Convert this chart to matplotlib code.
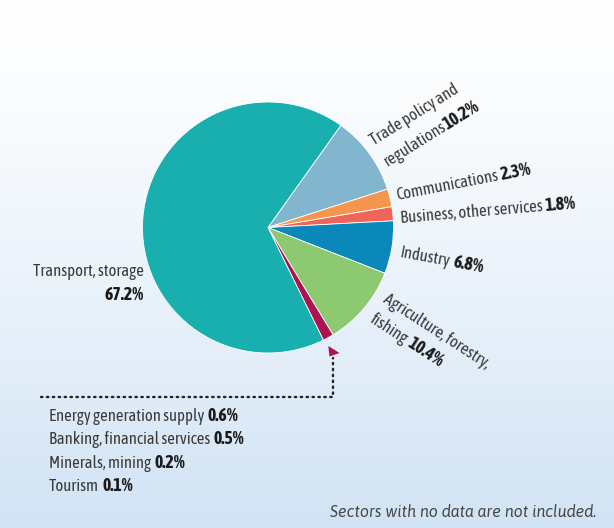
import numpy as np
import matplotlib
matplotlib.use("Agg")
import matplotlib.pyplot as plt
from matplotlib.patches import Polygon

# ---------------- data ----------------
sectors = ["Trade policy and regulations", "Communications", "Business, other services",
           "Industry", "Agriculture, forestry, fishing", "Other (small sectors)", "Transport, storage"]
small_sectors = ["Energy generation supply", "Banking, financial services", "Minerals, mining", "Tourism"]
small_shares = [0.6, 0.5, 0.2, 0.1]
main_shares = [10.2, 2.3, 1.8, 6.8, 10.4, 67.2]
shares = main_shares[:5] + [round(sum(small_shares), 1)] + main_shares[5:]
colors = ["#82B6CE", "#F5964F", "#F0655A", "#0B88BA", "#8CC970", "#AA1450", "#1AAFAF"]
footnote = "Sectors with no data are not included."

# ---------------- figure ----------------
W, H = 614, 528
fig = plt.figure(figsize=(W / 100, H / 100), dpi=100)
ax = fig.add_axes([0, 0, 1, 1])
ax.set_axis_off()

def Y(y):
    return H - y

# background gradient
t = np.linspace(0, 1, 256)[:, None]
top = np.array([1.0, 1.0, 1.0])
bot = np.array([0.82, 0.89, 0.96])
g = (t ** 1.3)
grad = top[None, None, :] * (1 - g[..., None]) + bot[None, None, :] * g[..., None]
grad = np.repeat(grad, 2, axis=1)
ax.imshow(grad, extent=[0, W, 0, H], origin="upper", aspect="auto", zorder=0)

FAM = ["Asap Condensed", "DejaVu Sans"]
FS = 12
BFS = 12.8
TXT = "#3a3a3a"
BOLD = "#1a1a1a"

wedges, _ = ax.pie(shares, colors=colors, startangle=54.5, counterclock=False,
                   center=(268, Y(227.5)), radius=125.5,
                   wedgeprops=dict(edgecolor="white", linewidth=0.6))
for w in wedges:
    w.set_zorder(2)

ax.set_xlim(0, W)
ax.set_ylim(0, H)
ax.set_aspect("auto")

renderer = fig.canvas.get_renderer()

def measure(s, b):
    tt = ax.text(0, 0, s, fontsize=BFS if b else FS, fontweight="bold" if b else "normal", family=FAM)
    w = tt.get_window_extent(renderer).width
    tt.remove()
    return w

def rich(x, y, parts, rot=0, ha="left", gapf=0.2):
    """parts: list of (text, bold?)"""
    gap = FS * 100 / 72 * gapf
    widths = [measure(s, b) for s, b in parts]
    total = sum(widths) + gap * (len(parts) - 1)
    c, sn = np.cos(np.radians(rot)), np.sin(np.radians(rot))
    cur = -total if ha == "right" else 0.0
    for (s, b), wd in zip(parts, widths):
        ax.text(x + cur * c, Y(y) + cur * sn, s, rotation=rot, rotation_mode="anchor",
                ha="left", va="baseline", fontsize=BFS if b else FS, family=FAM,
                fontweight="bold" if b else "normal", color=BOLD if b else TXT, zorder=5)
        cur += wd + gap

def pct(v):
    return f"{v:.1f}%"

# Transport label
ax.text(144, Y(276), sectors[6], ha="right", va="baseline", fontsize=FS, family=FAM, color=TXT)
ax.text(144, Y(299.5), pct(shares[6]), ha="right", va="baseline", fontsize=BFS, family=FAM,
        fontweight="bold", color=BOLD)

# Trade policy (two lines, rotated)
rich(374, 146, [("Trade policy and", False)], rot=32)
rich(388, 167, [("regulations", False), (pct(shares[0]), True)], rot=32, gapf=0.0)

rich(397, 200.5, [(sectors[1], False), (pct(shares[1]), True)], rot=11)
rich(400.5, 223, [(sectors[2], False), (pct(shares[2]), True)], rot=4.8)
rich(399, 257, [(sectors[3], False), (pct(shares[3]), True)], rot=-10.5)
rich(382, 301.5, [("Agriculture, forestry,", False)], rot=-33)
rich(368.5, 321.5, [("fishing", False), (pct(shares[4]), True)], rot=-33)

# small sectors list
for i, (s, v) in enumerate(zip(small_sectors, small_shares)):
    rich(49, 420.7 + i * 23.4, [(s, False), (pct(v), True)])

# dotted leader + arrow
ax.plot([40.7, 333.3, 333.3], [Y(397.3), Y(397.3), Y(358)], linestyle=(0, (0.6, 1.9)),
        color="#222222", lw=1.7, dash_capstyle="round", solid_capstyle="round", zorder=4)
ax.add_patch(Polygon([(328.3, Y(346)), (339.5, Y(353)), (329.5, Y(356.5))], closed=True,
                     facecolor=colors[5], edgecolor="none", zorder=4))

# footnote
ax.text(596, Y(516.7), footnote, ha="right", va="baseline", fontsize=11.5, family=["Asap", "DejaVu Sans"],
        fontstyle="italic", color="#444444", zorder=5)

fig.savefig("out.png", dpi=100)
